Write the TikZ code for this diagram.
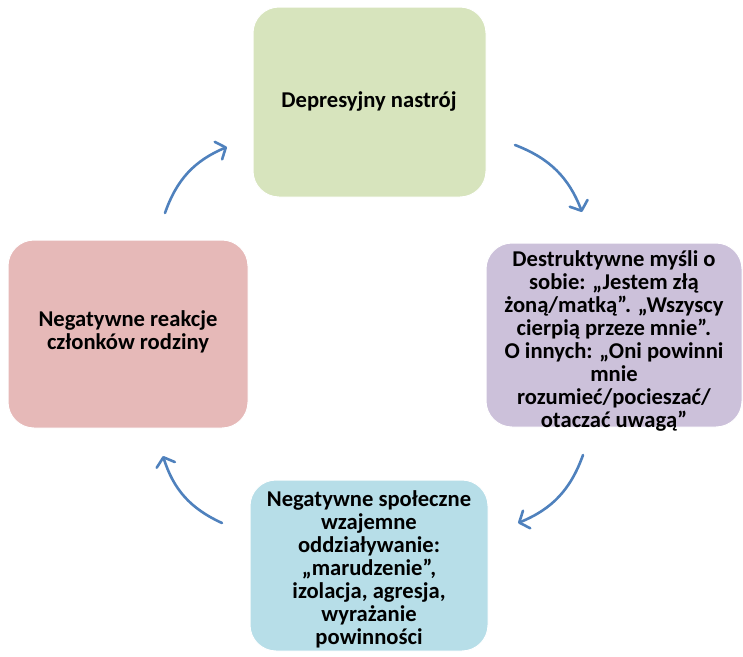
\documentclass[tikz,border=0pt]{standalone}
\usepackage{fontspec}
\setmainfont{Carlito}
\usetikzlibrary{arrows.meta,calc}
\definecolor{cgreen}{HTML}{D7E4BD}
\definecolor{cpurple}{HTML}{CCC1DA}
\definecolor{cblue}{HTML}{B7DEE8}
\definecolor{cred}{HTML}{E6B9B8}
\definecolor{carrow}{HTML}{4F81BD}
\begin{document}
\begin{tikzpicture}[x=1pt,y=-1pt,
  box/.style={draw=white,line width=1pt,rounded corners=26pt,inner sep=0pt},
  txt/.style={align=center,inner sep=0pt,font=\bfseries\fontsize{22.6}{23}\selectfont,text=black},
  cyc/.style={draw=carrow,line width=2.6pt,line cap=round,bend left=24,
    -{Straight Barb[length=8pt,width=19pt,line cap=round,line join=round]}}]
\useasboundingbox (0,0) rectangle (743,656);
\node[box,fill=cgreen,minimum width=233pt,minimum height=190pt] (top) at (369.5,102) {};
\node[box,fill=cpurple,minimum width=256pt,minimum height=184pt] (right) at (614,335) {};
\node[box,fill=cblue,minimum width=238pt,minimum height=171pt] (bottom) at (369,565.5) {};
\node[box,fill=cred,minimum width=240pt,minimum height=188pt] (left) at (128,334) {};
\node[txt] (ttop) at (369,101) {Depresyjny nastrój};
\node[txt] (tright) at (614,341) {Destruktywne myśli o\\sobie: „Jestem złą\\żoną/matką”. „Wszyscy\\cierpią przeze mnie”.\\O innych: „Oni powinni\\mnie\\rozumieć/pocieszać/\\otaczać uwagą”};
\node[txt] (tbottom) at (369,569) {Negatywne społeczne\\wzajemne\\oddziaływanie:\\„marudzenie”,\\izolacja, agresja,\\wyrażanie\\powinności};
\node[txt] (tleft) at (128,332) {Negatywne reakcje\\członków rodziny};
\coordinate (a1s) at (515,145);
\coordinate (a1e) at (582,212);
\coordinate (a2s) at (583,455);
\coordinate (a2e) at (518,523);
\coordinate (a3s) at (222,523);
\coordinate (a3e) at (163,456);
\coordinate (a4s) at (165,213);
\coordinate (a4e) at (227,147);
\draw[cyc] (a1s) to (a1e);
\draw[cyc] (a2s) to (a2e);
\draw[cyc] (a3s) to (a3e);
\draw[cyc] (a4s) to (a4e);
\end{tikzpicture}
\end{document}
